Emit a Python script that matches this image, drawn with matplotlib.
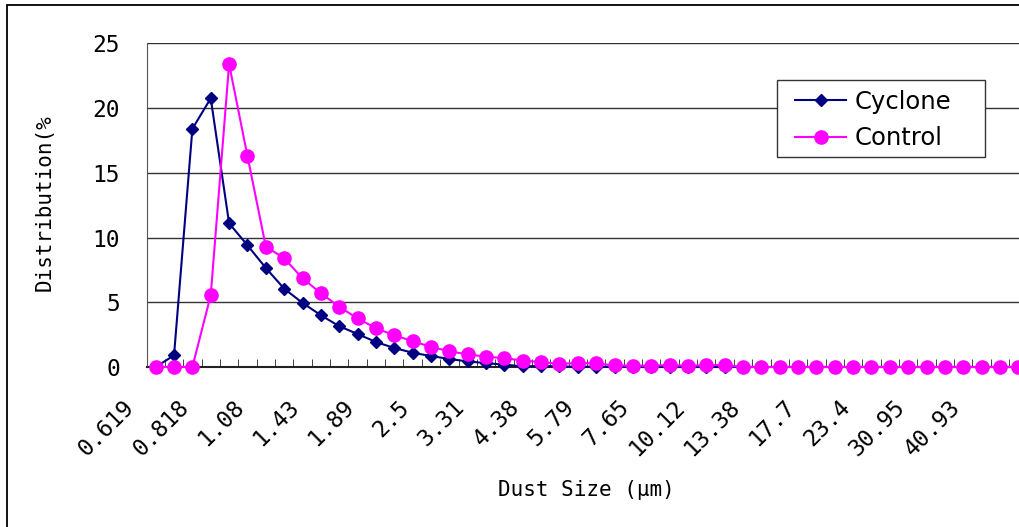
import matplotlib
matplotlib.use('Agg')
import matplotlib.pyplot as plt
import matplotlib.transforms as mtransforms
from matplotlib.patches import Rectangle

# size bins, labelled every third bin
tick_labels = ['0.619', '0.818', '1.08', '1.43', '1.89', '2.5', '3.31', '4.38',
               '5.79', '7.65', '10.12', '13.38', '17.7', '23.4', '30.95', '40.93']
n_bins = 48

cyclone = [0, 0.9, 18.4, 20.75, 11.1, 9.4, 7.65, 6.05, 4.95, 4.0, 3.15, 2.55,
           1.93, 1.47, 1.1, 0.85, 0.62, 0.43, 0.3, 0.18, 0.05, 0.08, 0.04, 0.02,
           0.02, 0.01] + [0] * 22
control = [0, 0, 0, 5.55, 23.4, 16.3, 9.3, 8.4, 6.85, 5.7, 4.65, 3.75,
           3.0, 2.45, 2.0, 1.55, 1.22, 0.97, 0.8, 0.68, 0.5, 0.38, 0.25, 0.3,
           0.28, 0.12, 0.1, 0.1, 0.15, 0.1, 0.14, 0.15] + [0] * 16

W, H = 1019, 527
mono = 'DejaVu Sans Mono'

fig = plt.figure(figsize=(W / 100, H / 100), dpi=100)
fig.patch.set_facecolor('white')

# outer chart border (only left and top edges are visible)
fig.add_artist(Rectangle((7 / W, -0.1), 1.2, (H - 5) / H + 0.1,
                         transform=fig.transFigure, fill=False,
                         edgecolor='black', lw=1.3))

# plot area: left 146.5px, right beyond the picture, top 43px, bottom 367px
ax = fig.add_axes([146.5 / W, (H - 367) / H, (1027.5 - 146.5) / W, (367 - 43.3) / H])

x = list(range(n_bins))
ax.plot(x, cyclone, color='#000080', marker='D', ms=6.5, lw=1.5,
        label='Cyclone', zorder=3, clip_on=False)
ax.plot(x, control, color='#FF00FF', marker='o', ms=9.5, lw=1.5,
        label='Control', zorder=4, clip_on=False)

ax.set_xlim(-0.5, n_bins - 0.5)
ax.set_ylim(0, 25)
ax.set_yticks([0, 5, 10, 15, 20, 25])
ax.yaxis.grid(True, color='#333333', lw=1)
ax.set_axisbelow(True)

for s in ['top', 'right']:
    ax.spines[s].set_visible(False)
ax.spines['left'].set_color('#555555')
ax.spines['bottom'].set_color('#222222')
ax.spines['bottom'].set_linewidth(1.5)

ax.tick_params(axis='y', length=0, pad=19, labelsize=16.5)
for lab in ax.get_yticklabels():
    lab.set_family(mono)

# category ticks between bins, labels every third bin
ax.set_xticks([i - 0.5 for i in range(n_bins + 1)], minor=True)
ax.set_xticks(list(range(0, 3 * len(tick_labels), 3)))
ax.set_xticklabels(tick_labels, family=mono, fontsize=16.5, rotation=45,
                   ha='right', va='center', rotation_mode='anchor')
ax.tick_params(axis='x', which='major', length=0, pad=0)
ax.tick_params(axis='x', which='minor', length=6, direction='in', color='#222222')
shift = mtransforms.ScaledTranslation(-0.25, -0.37, fig.dpi_scale_trans)
for lab in ax.get_xticklabels():
    lab.set_transform(lab.get_transform() + shift)

fig.text(45 / W, 1 - 203 / H, 'Distribution(%', family=mono, fontsize=15,
         rotation=90, ha='center', va='center')
fig.text(586 / W, 1 - 490 / H, 'Dust Size (μm)', family=mono, fontsize=15,
         ha='center', va='center')

# legend box drawn by hand so its padding matches
ax.add_patch(Rectangle((777 / W, 1 - 157 / H), 208 / W, 77 / H,
                       transform=fig.transFigure, facecolor='white',
                       edgecolor='#333333', lw=1, zorder=5, clip_on=False))
leg = ax.legend(loc='upper left', bbox_to_anchor=(795 / W, 1 - 90 / H),
                bbox_transform=fig.transFigure, frameon=False, fontsize=17.5,
                borderpad=0, borderaxespad=0, handlelength=2.1,
                handletextpad=0.35, labelspacing=0.5)
leg.set_zorder(6)

fig.savefig('out.png', dpi=100)
